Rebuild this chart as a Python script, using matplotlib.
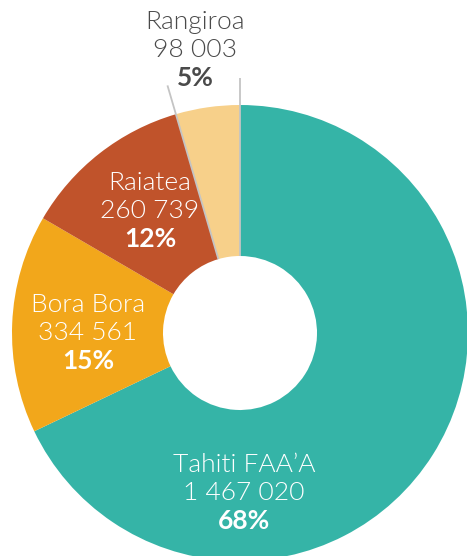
import numpy as np
import matplotlib.pyplot as plt

# island passenger counts
islands = ["Tahiti FAA\u2019A", "Bora Bora", "Raiatea", "Rangiroa"]
passengers = [1467020, 334561, 260739, 98003]
pct_labels = ["68%", "15%", "12%", "5%"]
colors = ["#35b4a7", "#f2a71b", "#c0532b", "#f7d08a"]

W, H = 467, 556
fig = plt.figure(figsize=(W / 100, H / 100), dpi=100)
ax = fig.add_axes([0, 0, 1, 1])

cx, cy = 240, H - 333
r_out, r_in = 228, 77

ax.pie(passengers, colors=colors, radius=r_out, center=(cx, cy),
       startangle=90, counterclock=False,
       wedgeprops=dict(width=r_out - r_in, linewidth=0))

# grey leader lines along the edges of the small Rangiroa slice
frac = np.cumsum(passengers) / sum(passengers)
edges = [90 - 360 * frac[2], 90 - 360 * frac[3]]
for a, r_end in zip(edges, [258, 255]):
    t = np.deg2rad(a)
    ax.plot([cx + r_in * np.cos(t), cx + r_end * np.cos(t)],
            [cy + r_in * np.sin(t), cy + r_end * np.sin(t)],
            color="#c4c4c4", lw=1.3, solid_capstyle="butt", zorder=3)

# label anchor points (image pixels) and text colours
label_pos = [(244, 465), (88, 305), (150, 183), (195, 22)]
text_colors = ["white", "white", "white", "#4a4a4a"]
step = 28
for name, val, pct, (x, y), tc in zip(islands, passengers, pct_labels,
                                      label_pos, text_colors):
    num = f"{val:,}".replace(",", " ")
    ax.text(x, H - y, name, ha="center", va="center", fontsize=19,
            color=tc, family="Lato", fontweight=300, zorder=4)
    ax.text(x, H - y - step, num, ha="center", va="center", fontsize=19,
            color=tc, family="Lato", fontweight=300, zorder=4)
    ax.text(x, H - y - 2 * step, pct, ha="center", va="center", fontsize=19,
            color=tc, family="Lato", fontweight="bold", zorder=4)

ax.set_xlim(0, W)
ax.set_ylim(0, H)
ax.set_aspect("auto")
ax.axis("off")

fig.savefig("out.png", dpi=100)
